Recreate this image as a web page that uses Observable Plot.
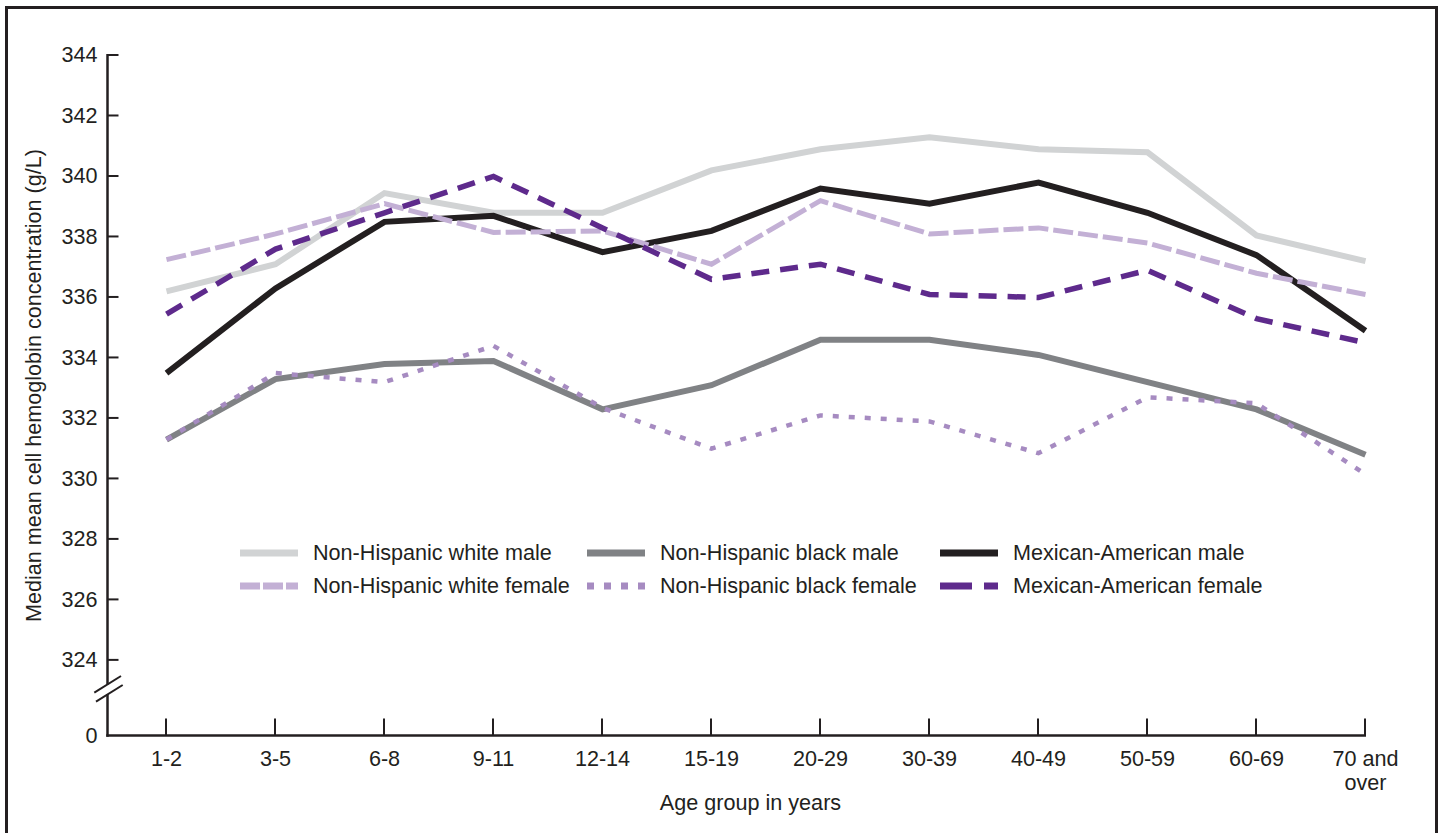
<!DOCTYPE html>
<html><head><meta charset="utf-8">
<script src="https://cdn.jsdelivr.net/npm/d3@7"></script>
<script src="https://cdn.jsdelivr.net/npm/@observablehq/plot@0.6"></script>
<style>
html,body{margin:0;padding:0;background:#fff}
body{font-family:"Liberation Sans",Arial,Helvetica,sans-serif;color:#231f20}
#wrap{position:relative;width:1444px;height:833px;overflow:hidden}
#frame{position:absolute;left:5px;top:6px;width:1433px;height:900px;border:3px solid #231f20;box-sizing:border-box;pointer-events:none}
#chart{position:absolute;left:0;top:0}
.leg{position:absolute;display:flex;align-items:center;font-size:21.6px;white-space:nowrap;line-height:1}
.leg svg{display:block;margin-right:15px}
</style>
</head><body>
<div id="wrap"><div id="chart"></div><div id="frame"></div></div>
<script>
// ---- data ----
const ages = ["1-2","3-5","6-8","9-11","12-14","15-19","20-29","30-39","40-49","50-59","60-69","70 and over"];
const nhwMale   = [336.2, 337.1, 339.45, 338.8, 338.8, 340.2, 340.9, 341.3, 340.9, 340.8, 338.05, 337.2];
const nhwFemale = [337.25, 338.1, 339.1, 338.15, 338.2, 337.1, 339.2, 338.1, 338.3, 337.8, 336.8, 336.1];
const nhbMale   = [331.3, 333.3, 333.8, 333.9, 332.3, 333.1, 334.6, 334.6, 334.1, 333.2, 332.3, 330.8];
const nhbFemale = [331.3, 333.5, 333.2, 334.4, 332.35, 331.0, 332.1, 331.9, 330.85, 332.7, 332.5, 330.15];
const maMale    = [333.5, 336.3, 338.5, 338.7, 337.5, 338.2, 339.6, 339.1, 339.8, 338.8, 337.4, 334.9];
const maFemale  = [335.45, 337.6, 338.8, 340.0, 338.3, 336.6, 337.1, 336.1, 336.0, 336.9, 335.3, 334.5];
const yTickValues = [324, 326, 328, 330, 332, 334, 336, 338, 340, 342, 344];
const zeroLabel = "0";
const xTitle = "Age group in years";
const yTitle = "Median mean cell hemoglobin concentration (g/L)";

// ---- series styles (drawing order) ----
const series = [
  {name: "Non-Hispanic white male",   values: nhwMale,   color: "#d1d3d4", width: 6,   dash: null},
  {name: "Non-Hispanic black male",   values: nhbMale,   color: "#808285", width: 6,   dash: null},
  {name: "Mexican-American male",     values: maMale,    color: "#231f20", width: 6,   dash: null},
  {name: "Non-Hispanic white female", values: nhwFemale, color: "#c3b0d5", width: 5,   dash: "20,5"},
  {name: "Non-Hispanic black female", values: nhbFemale, color: "#a68bc1", width: 4.5, dash: "6,10"},
  {name: "Mexican-American female",   values: maFemale,  color: "#5e2a8c", width: 5.5, dash: "18,11"}
];
const legendOrder = [
  ["Non-Hispanic white male", "Non-Hispanic black male", "Mexican-American male"],
  ["Non-Hispanic white female", "Non-Hispanic black female", "Mexican-American female"]
];

const ZERO_POS = 321.5; // position on the broken axis where 0 sits
const rows = series.flatMap(s => s.values.map((v, i) => ({age: ages[i], value: v, series: s.name})));
const ink = "#231f20";
const FS = 21.6;

function decorations(index, scales, values, dims) {
  const {x, y} = scales;
  const g = d3.create("svg:g").attr("fill", "none").attr("stroke", ink);
  const x0 = dims.marginLeft - 0.5;
  const yb = y(ZERO_POS);
  const yTop = y(344);
  const yBreak = y(324) + 0.385 * (yb - y(324));
  // y axis (broken)
  g.append("line").attr("x1", x0).attr("x2", x0).attr("y1", yTop - 1).attr("y2", yBreak - 4.6).attr("stroke-width", 2.5);
  g.append("line").attr("x1", x0).attr("x2", x0).attr("y1", yBreak + 5.1).attr("y2", yb + 1.25).attr("stroke-width", 2.5);
  // break slashes
  g.append("line").attr("x1", x0 - 13.2).attr("y1", yBreak + 3.7).attr("x2", x0 + 13.5).attr("y2", yBreak - 13).attr("stroke-width", 2);
  g.append("line").attr("x1", x0 - 11.5).attr("y1", yBreak + 12.7).attr("x2", x0 + 15.2).attr("y2", yBreak - 4).attr("stroke-width", 2);
  // x axis
  const xEnd = x(ages[ages.length - 1]);
  g.append("line").attr("x1", x0 - 1.25).attr("x2", xEnd + 1).attr("y1", yb).attr("y2", yb).attr("stroke-width", 2.5);
  // y ticks (inward)
  for (const v of yTickValues) {
    g.append("line").attr("x1", x0).attr("x2", x0 + 11).attr("y1", y(v)).attr("y2", y(v)).attr("stroke-width", 2);
  }
  // x ticks (upward)
  for (const a of ages) {
    g.append("line").attr("x1", x(a)).attr("x2", x(a)).attr("y1", yb).attr("y2", yb - 17).attr("stroke-width", 2);
  }
  // titles
  const t = g.append("g").attr("stroke", "none").attr("fill", ink).attr("font-size", FS);
  t.append("text").attr("x", 750.5).attr("y", 810).attr("text-anchor", "middle").text(xTitle);
  t.append("text").attr("transform", `translate(41,385.5) rotate(-90)`).attr("text-anchor", "middle").text(yTitle);
  return g.node();
}

const chart = Plot.plot({
  width: 1444,
  height: 833,
  marginLeft: 108,
  marginRight: 76,
  marginTop: 55,
  marginBottom: 97.5,
  style: {fontFamily: '"Liberation Sans", Arial, Helvetica, sans-serif', fontSize: FS + "px", color: ink, background: "transparent", overflow: "visible"},
  x: {type: "point", domain: ages, range: [163, 1368], padding: 0},
  y: {domain: [ZERO_POS, 344]},
  marks: [
    ...series.map(s => Plot.line(rows.filter(r => r.series === s.name), {
      x: "age", y: "value", stroke: s.color, strokeWidth: s.width,
      strokeDasharray: s.dash, strokeLinejoin: "miter", strokeLinecap: "butt", strokeMiterlimit: 10
    })),
    Plot.axisY([ZERO_POS, ...yTickValues], {
      tickSize: 0, tickPadding: 11, fontSize: FS, label: null,
      tickFormat: d => d === ZERO_POS ? zeroLabel : String(d)
    }),
    Plot.axisX(ages, {
      tickSize: 0, tickPadding: 13, fontSize: FS, label: null, lineHeight: 1.12,
      tickFormat: d => d === "70 and over" ? "70 and\nover" : d
    }),
    decorations
  ]
});
document.getElementById("chart").appendChild(chart);

// ---- legend ----
const wrap = document.getElementById("wrap");
const colX = [240, 587, 940];
const rowY = [553, 586];
legendOrder.forEach((row, ri) => row.forEach((name, ci) => {
  const s = series.find(d => d.name === name);
  const div = document.createElement("div");
  div.className = "leg";
  div.style.left = colX[ci] + "px";
  div.style.top = (rowY[ri] - 12) + "px";
  div.style.height = "24px";
  const w = 58;
  div.innerHTML = `<svg width="${w}" height="12"><line x1="0" x2="${w}" y1="6" y2="6" stroke="${s.color}" stroke-width="${Math.max(s.width, 6) + 1}" ${s.dash ? `stroke-dasharray="${s.dash === "20,5" ? "20,3" : s.dash === "18,11" ? "32,12" : "7,10"}"` : ""}/></svg><span>${name}</span>`;
  wrap.appendChild(div);
}));
</script>
</body></html>
